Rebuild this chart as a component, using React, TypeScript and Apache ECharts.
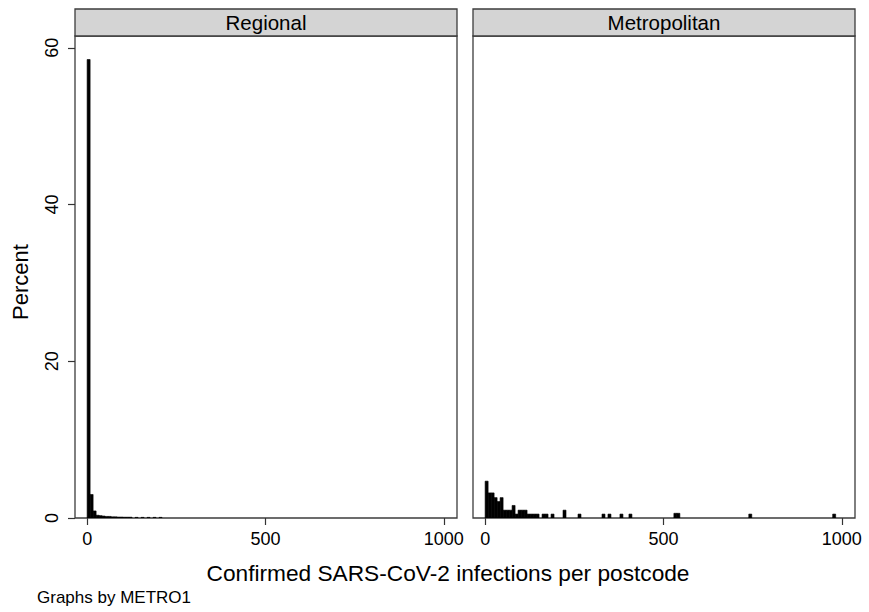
import React, { useEffect, useRef } from "react";
import * as echarts from "echarts";

// Shared histogram bin width (units of infections)
const binWidth = 8.4;

// Regional panel: bin index -> percent (of all postcodes)
const regionalBins = [0, 1, 2, 3, 4, 5, 6, 7, 8, 9, 10, 11, 12, 13, 14, 16, 18, 20, 22, 24];
const regionalPct = [58.5, 3.0, 0.9, 0.35, 0.3, 0.25, 0.2, 0.2, 0.15, 0.15, 0.12, 0.12, 0.1, 0.1, 0.1, 0.08, 0.08, 0.08, 0.08, 0.08];

// Metropolitan panel: bin index -> percent
const metroBins = [0, 1, 2, 3, 4, 5, 6, 7, 8, 9, 10, 11, 12, 13, 14, 15, 16, 17, 19, 20, 22, 26, 31, 39, 41, 45, 48, 63, 64, 88, 116];
const metroPct = [4.7, 3.2, 3.2, 2.6, 2.1, 2.6, 1.0, 1.0, 1.0, 1.6, 0.5, 1.0, 1.0, 1.0, 0.5, 0.5, 0.5, 0.5, 0.5, 0.5, 0.5, 1.0, 0.5, 0.5, 0.5, 0.5, 0.5, 0.6, 0.6, 0.5, 0.5];

const panelTitles = ["Regional", "Metropolitan"];
const xTicks = [0, 500, 1000];
const yTicks = [0, 20, 40, 60];
const xTitle = "Confirmed SARS-CoV-2 infections per postcode";
const yTitle = "Percent";
const note = "Graphs by METRO1";

const FONT = "'Liberation Sans', Arial, Helvetica, sans-serif";

function toRows(bins: number[], pct: number[]) {
  return bins.map((b, i) => [b * binWidth, (b + 1) * binWidth, pct[i]]);
}

const renderItem = (params: any, api: any) => {
  const x0 = api.value(0);
  const x1 = api.value(1);
  const y = api.value(2);
  const p0 = api.coord([x0, y]);
  const p1 = api.coord([x1, 0]);
  return {
    type: "rect",
    shape: { x: p0[0], y: p0[1], width: p1[0] - p0[0], height: p1[1] - p0[1] },
    style: { fill: "#000", stroke: "#000", lineWidth: 0.6 },
  };
};

export default function App() {
  const ref = useRef<HTMLDivElement>(null);
  useEffect(() => {
    if (!ref.current) return;
    const chart = echarts.init(ref.current, null, { renderer: "svg" });
    const panels = [
      { left: 75, width: 382 },
      { left: 473, width: 382 },
    ];
    const top = 36;
    const height = 482;
    const xMin = -34;
    const xMax = 1037;
    const yMax = 61.5;

    const grids = panels.map((p) => ({
      left: p.left,
      top,
      width: p.width,
      height,
      show: true,
      borderColor: "#3c3c3c",
      borderWidth: 1.3,
      backgroundColor: "transparent",
    }));

    const xAxes = panels.map((_, i) => ({
      type: "value",
      gridIndex: i,
      min: xMin,
      max: xMax,
      position: "bottom",
      splitLine: { show: false },
      axisLine: { show: false, onZero: false },
      axisTick: { show: true, length: 7, lineStyle: { color: "#333", width: 1.2 }, customValues: xTicks },
      axisLabel: {
        show: true,
        customValues: xTicks,
        formatter: (v: number) => String(v),
        color: "#000",
        fontFamily: FONT,
        fontSize: 18,
        margin: 12,
      },
    }));

    const yAxes = panels.map((_, i) => ({
      type: "value",
      gridIndex: i,
      min: 0,
      max: yMax,
      position: "left",
      splitLine: { show: false },
      axisLine: { show: false, onZero: false },
      axisTick: { show: i === 0, length: 7, lineStyle: { color: "#333", width: 1.2 }, customValues: yTicks },
      axisLabel: {
        show: i === 0,
        customValues: yTicks,
        formatter: (v: number) => String(v),
        rotate: 90,
        color: "#000",
        fontFamily: FONT,
        fontSize: 18,
        margin: 14,
      },
    }));

    const series = [
      {
        type: "custom",
        xAxisIndex: 0,
        yAxisIndex: 0,
        renderItem,
        encode: { x: [0, 1], y: 2 },
        data: toRows(regionalBins, regionalPct),
        clip: true,
      },
      {
        type: "custom",
        xAxisIndex: 1,
        yAxisIndex: 1,
        renderItem,
        encode: { x: [0, 1], y: 2 },
        data: toRows(metroBins, metroPct),
        clip: true,
      },
    ];

    const graphic: any[] = [];
    panels.forEach((p, i) => {
      graphic.push({
        type: "rect",
        shape: { x: p.left, y: 9, width: p.width, height: 27 },
        style: { fill: "#d4d4d4", stroke: "#3c3c3c", lineWidth: 1.3 },
      });
      graphic.push({
        type: "text",
        x: p.left + p.width / 2,
        y: 22.5,
        style: {
          text: panelTitles[i],
          fill: "#000",
          font: `20.5px ${FONT}`,
          align: "center",
          verticalAlign: "middle",
        },
      });
    });
    graphic.push({
      type: "text",
      x: 448,
      y: 573,
      style: { text: xTitle, fill: "#000", font: `22.7px ${FONT}`, align: "center", verticalAlign: "middle" },
    });
    graphic.push({
      type: "text",
      x: 20,
      y: 282,
      rotation: Math.PI / 2,
      style: { text: yTitle, fill: "#000", font: `22px ${FONT}`, align: "center", verticalAlign: "middle" },
    });
    graphic.push({
      type: "text",
      x: 37,
      y: 597,
      style: { text: note, fill: "#000", font: `17px ${FONT}`, align: "left", verticalAlign: "middle" },
    });

    chart.setOption({
      animation: false,
      backgroundColor: "#fff",
      grid: grids,
      xAxis: xAxes,
      yAxis: yAxes,
      series,
      graphic,
    });
    return () => chart.dispose();
  }, []);
  return (
    <div
      ref={ref}
      style={{ position: "fixed", left: 0, top: 0, width: 869, height: 612, background: "#fff" }}
    />
  );
}
